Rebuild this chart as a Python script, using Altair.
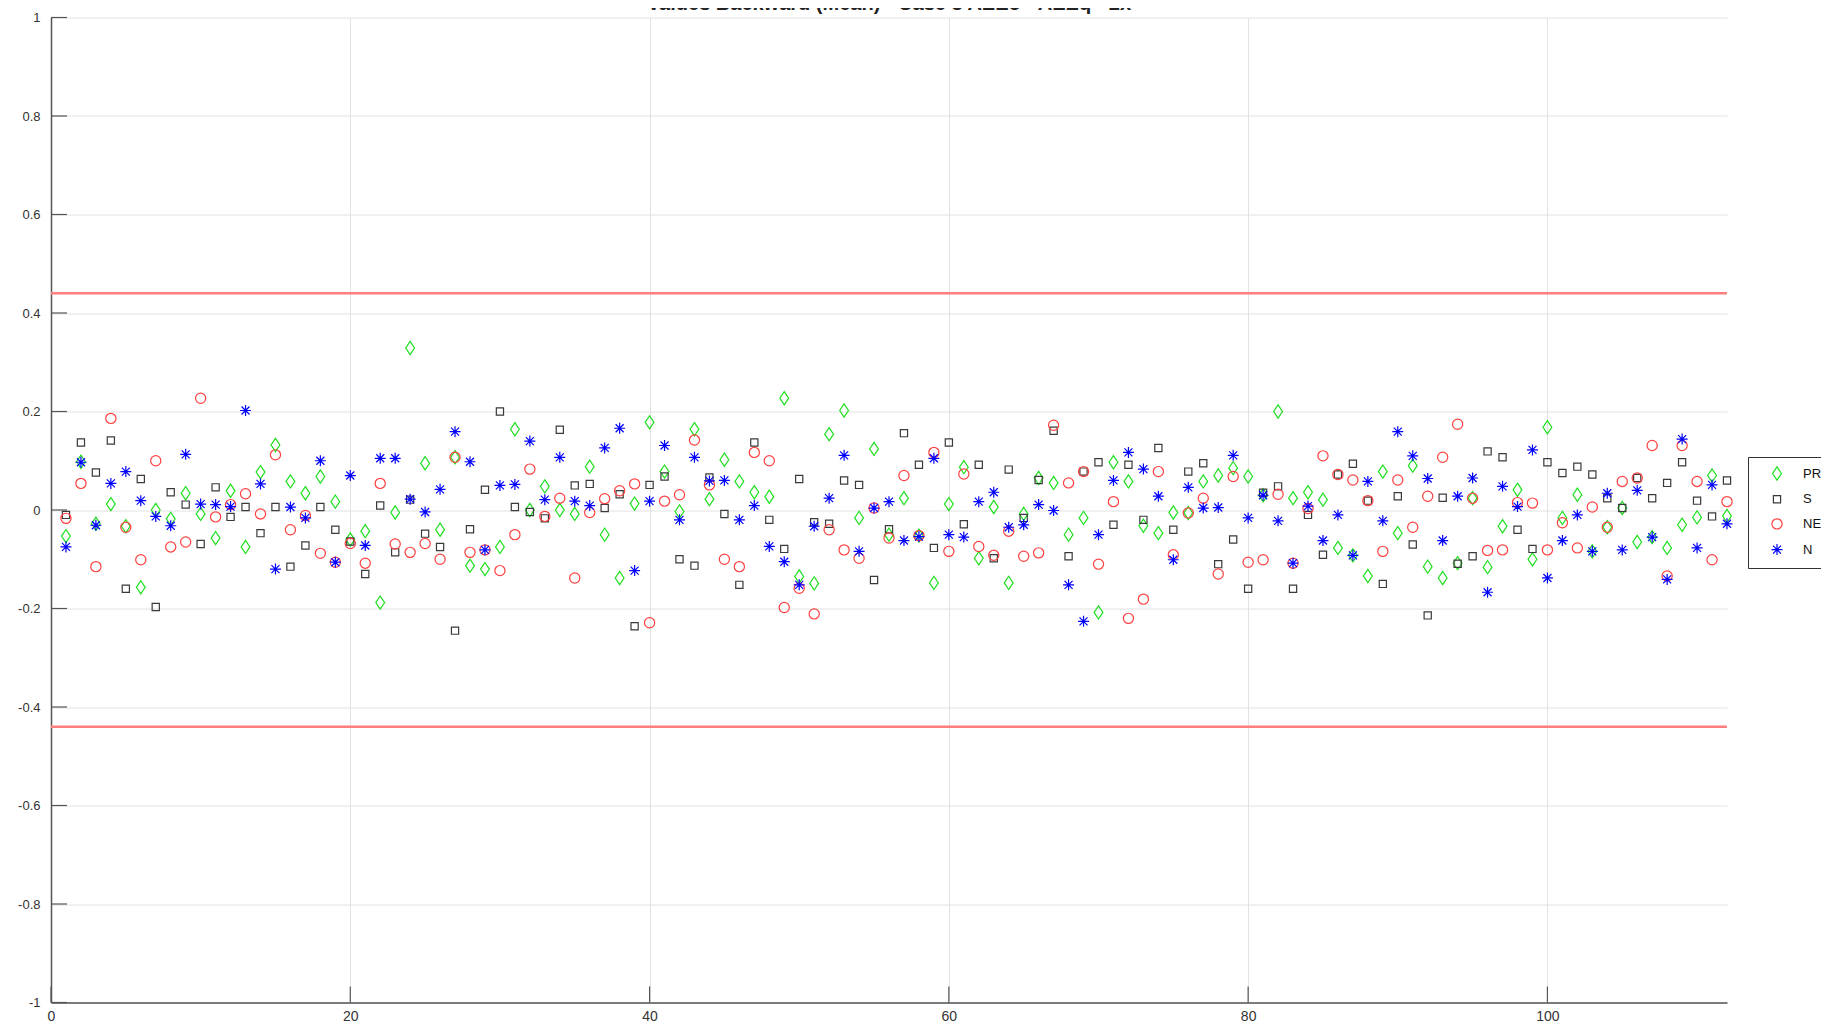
import altair as alt
import pandas as pd

# ---------------- data ----------------
x_index = list(range(1, 113))

series_names = ["PR", "S", "NE", "N"]

pr = [-0.053, 0.098, -0.028, 0.012, -0.033, -0.157, 0.0, -0.018, 0.034, -0.008,
      -0.057, 0.039, -0.075, 0.077, 0.132, 0.058, 0.034, 0.068, 0.017, -0.06,
      -0.043, -0.188, -0.005, 0.329, 0.095, -0.04, 0.107, -0.113, -0.12, -0.075,
      0.164, 0.0, 0.048, 0.0, -0.008, 0.088, -0.05, -0.138, 0.013, 0.178,
      0.078, -0.003, 0.164, 0.022, 0.102, 0.058, 0.036, 0.027, 0.227, -0.135,
      -0.149, 0.154, 0.202, -0.016, 0.124, -0.05, 0.024, -0.052, -0.148, 0.012,
      0.087, -0.098, 0.006, -0.148, -0.008, 0.065, 0.055, -0.05, -0.016, -0.208,
      0.097, 0.058, -0.032, -0.047, -0.005, -0.006, 0.058, 0.07, 0.085, 0.068,
      0.03, 0.2, 0.024, 0.036, 0.021, -0.077, -0.092, -0.134, 0.078, -0.047,
      0.09, -0.115, -0.138, -0.108, 0.024, -0.116, -0.033, 0.041, -0.1, 0.168,
      -0.016, 0.031, -0.084, -0.035, 0.004, -0.065, -0.055, -0.077, -0.03, -0.015,
      0.07, -0.012]

s = [-0.01, 0.137, 0.076, 0.141, -0.16, 0.063, -0.197, 0.036, 0.011, -0.069,
     0.046, -0.014, 0.006, -0.047, 0.006, -0.115, -0.072, 0.006, -0.04, -0.064,
     -0.13, 0.009, -0.086, 0.021, -0.048, -0.075, -0.245, -0.039, 0.041, 0.2,
     0.006, -0.004, -0.017, 0.163, 0.05, 0.053, 0.004, 0.032, -0.236, 0.051,
     0.068, -0.1, -0.113, 0.066, -0.008, -0.152, 0.137, -0.02, -0.079, 0.063,
     -0.025, -0.028, 0.06, 0.051, -0.142, -0.039, 0.156, 0.092, -0.077, 0.137,
     -0.029, 0.092, -0.098, 0.082, -0.016, 0.061, 0.161, -0.094, 0.078, 0.097,
     -0.03, 0.092, -0.02, 0.126, -0.04, 0.078, 0.095, -0.11, -0.06, -0.16,
     0.035, 0.048, -0.16, -0.01, -0.091, 0.072, 0.094, 0.019, -0.15, 0.028,
     -0.07, -0.214, 0.025, -0.109, -0.094, 0.119, 0.107, -0.04, -0.079, 0.097,
     0.075, 0.088, 0.072, 0.024, 0.004, 0.065, 0.024, 0.055, 0.097, 0.019,
     -0.013, 0.06]

ne = [-0.017, 0.054, -0.115, 0.186, -0.035, -0.101, 0.1, -0.075, -0.065, 0.227,
      -0.014, 0.011, 0.033, -0.008, 0.112, -0.04, -0.011, -0.088, -0.106, -0.068,
      -0.108, 0.054, -0.069, -0.086, -0.068, -0.1, 0.107, -0.086, -0.081, -0.123,
      -0.05, 0.083, -0.013, 0.024, -0.138, -0.005, 0.023, 0.039, 0.053, -0.229,
      0.018, 0.031, 0.142, 0.051, -0.1, -0.115, 0.117, 0.1, -0.198, -0.159,
      -0.211, -0.04, -0.081, -0.098, 0.004, -0.057, 0.07, -0.052, 0.117, -0.084,
      0.073, -0.074, -0.092, -0.043, -0.094, -0.087, 0.172, 0.055, 0.078, -0.11,
      0.017, -0.22, -0.181, 0.078, -0.091, -0.006, 0.024, -0.13, 0.068, -0.106,
      -0.101, 0.032, -0.108, 0.003, 0.11, 0.072, 0.061, 0.019, -0.084, 0.061,
      -0.035, 0.028, 0.107, 0.174, 0.024, -0.082, -0.081, 0.015, 0.014, -0.081,
      -0.026, -0.077, 0.006, -0.035, 0.058, 0.065, 0.131, -0.134, 0.131, 0.058,
      -0.101, 0.017]

n = [-0.075, 0.097, -0.031, 0.054, 0.078, 0.019, -0.013, -0.032, 0.113, 0.012,
     0.011, 0.007, 0.202, 0.053, -0.12, 0.006, -0.016, 0.1, -0.106, 0.07,
     -0.072, 0.105, 0.105, 0.022, -0.004, 0.042, 0.159, 0.098, -0.081, 0.05,
     0.052, 0.14, 0.021, 0.107, 0.018, 0.009, 0.126, 0.166, -0.123, 0.018,
     0.131, -0.02, 0.107, 0.059, 0.06, -0.02, 0.009, -0.074, -0.105, -0.152,
     -0.033, 0.024, 0.111, -0.084, 0.004, 0.017, -0.062, -0.054, 0.105, -0.05,
     -0.055, 0.017, 0.036, -0.035, -0.03, 0.011, -0.001, -0.152, -0.226, -0.05,
     0.06, 0.117, 0.083, 0.028, -0.101, 0.046, 0.004, 0.005, 0.111, -0.016,
     0.03, -0.022, -0.108, 0.008, -0.062, -0.01, -0.092, 0.058, -0.022, 0.159,
     0.11, 0.064, -0.062, 0.028, 0.065, -0.167, 0.048, 0.007, 0.122, -0.138,
     -0.062, -0.01, -0.084, 0.034, -0.081, 0.04, -0.055, -0.141, 0.144, -0.077,
     0.051, -0.028]

limit_values = [0.44, -0.44]
x_tick_values = [0, 20, 40, 60, 80, 100]
y_tick_values = [-1, -0.8, -0.6, -0.4, -0.2, 0, 0.2, 0.4, 0.6, 0.8, 1]
title_text = "Values Backward (Mean) - Case 3 AEEo - AEEq - 2x"

# ---------------- tables ----------------
rows = []
for name, vals in zip(series_names, [pr, s, ne, n]):
    for xi, v in zip(x_index, vals):
        rows.append({"idx": xi, "value": v, "series": name})
df = pd.DataFrame(rows)
lim_df = pd.DataFrame({"lim": limit_values})
xt_df = pd.DataFrame({"xt": x_tick_values})
yt_df = pd.DataFrame({"yt": y_tick_values})
title_df = pd.DataFrame({"t": [title_text]})

# ---------------- styling ----------------
W, H = 1676, 985
FONT = "Liberation Sans"
TICK_LEN = 16
series_colors = ["#1ee01e", "#3a3a3a", "#ff4040", "#0000ff"]
# marker outlines (unit = 5 px at size 100)
diamond = "M0,-1.32L0.88,0L0,1.32L-0.88,0Z"
square = "M-0.72,-0.72L0.72,-0.72L0.72,0.72L-0.72,0.72Z"
circle = "M1.02,0A1.02,1.02,0,1,1,-1.02,0A1.02,1.02,0,1,1,1.02,0Z"
asterisk = "M-1.1,0L1.1,0M0,-1.1L0,1.1M-0.8,-0.8L0.8,0.8M-0.8,0.8L0.8,-0.8"
series_shapes = [diamond, square, circle, asterisk]

xs = alt.Scale(domain=[0, 112], nice=False, zero=False)
ys = alt.Scale(domain=[-1, 1], nice=False, zero=False)

legend = alt.Legend(
    title=None, orient="none", legendX=1697, legendY=439.5,
    strokeColor="#333333", fillColor="white", padding=10,
    symbolOffset=12.5, labelOffset=19.5, rowPadding=9.7,
    labelFontSize=13, labelFont=FONT, labelColor="#111111",
    symbolStrokeWidth=1.2, symbolSize=100,
)

x_axis = alt.Axis(values=x_tick_values, grid=True, gridColor="#e2e2e2", gridWidth=1,
                  ticks=False, domain=True, domainColor="#555555", domainWidth=1.5,
                  labelFontSize=14, labelFont=FONT, labelColor="#333333",
                  labelPadding=7, title=None, labelFlush=False)
y_axis = alt.Axis(values=y_tick_values, grid=True, gridColor="#e2e2e2", gridWidth=1,
                  ticks=False, domain=True, domainColor="#555555", domainWidth=1.5,
                  labelFontSize=13, labelFont=FONT, labelColor="#333333",
                  labelPadding=11, title=None, labelFlush=False,
                  labelExpr="abs(datum.value) < 1e-9 ? '0' : (datum.value < 0 ? '-' + format(-datum.value, '.1~f') : format(datum.value, '.1~f'))")

limits = alt.Chart(lim_df).mark_rule(color="#ff7f7f", strokeWidth=2.5).encode(
    y=alt.Y("lim:Q", scale=ys, axis=y_axis)
)

points = alt.Chart(df).mark_point(filled=False, strokeWidth=1.2, opacity=1, size=100).encode(
    x=alt.X("idx:Q", scale=xs, axis=x_axis),
    y=alt.Y("value:Q", scale=ys, axis=y_axis),
    color=alt.Color("series:N", scale=alt.Scale(domain=series_names, range=series_colors), legend=legend),
    shape=alt.Shape("series:N", scale=alt.Scale(domain=series_names, range=series_shapes), legend=legend),
    order=alt.Order("order_key:Q"),
).transform_calculate(
    order_key="indexof(['PR','S','NE','N'], datum.series)"
)

y_ticks = alt.Chart(yt_df).mark_rule(color="#555555", strokeWidth=1.2).encode(
    y=alt.Y("yt:Q", scale=ys, axis=y_axis),
    x=alt.value(0), x2=alt.value(TICK_LEN),
)
x_ticks = alt.Chart(xt_df).mark_rule(color="#555555", strokeWidth=1.2).encode(
    x=alt.X("xt:Q", scale=xs, axis=x_axis),
    y=alt.value(H), y2=alt.value(H - TICK_LEN),
)

title = alt.Chart(title_df).mark_text(
    fontSize=20, fontWeight="bold", font=FONT, color="#222222",
    baseline="alphabetic", align="center"
).encode(
    text="t:N", x=alt.value(W / 2), y=alt.value(-8)
)

chart = alt.layer(limits, points, y_ticks, x_ticks, title).properties(
    width=W, height=H,
    autosize=alt.AutoSizeParams(type="none"),
    padding={"left": 43, "top": 9.5, "right": 94, "bottom": 21},
).configure_view(stroke=None)

chart.save("out.html", embed_options={"renderer": "svg", "actions": False})
